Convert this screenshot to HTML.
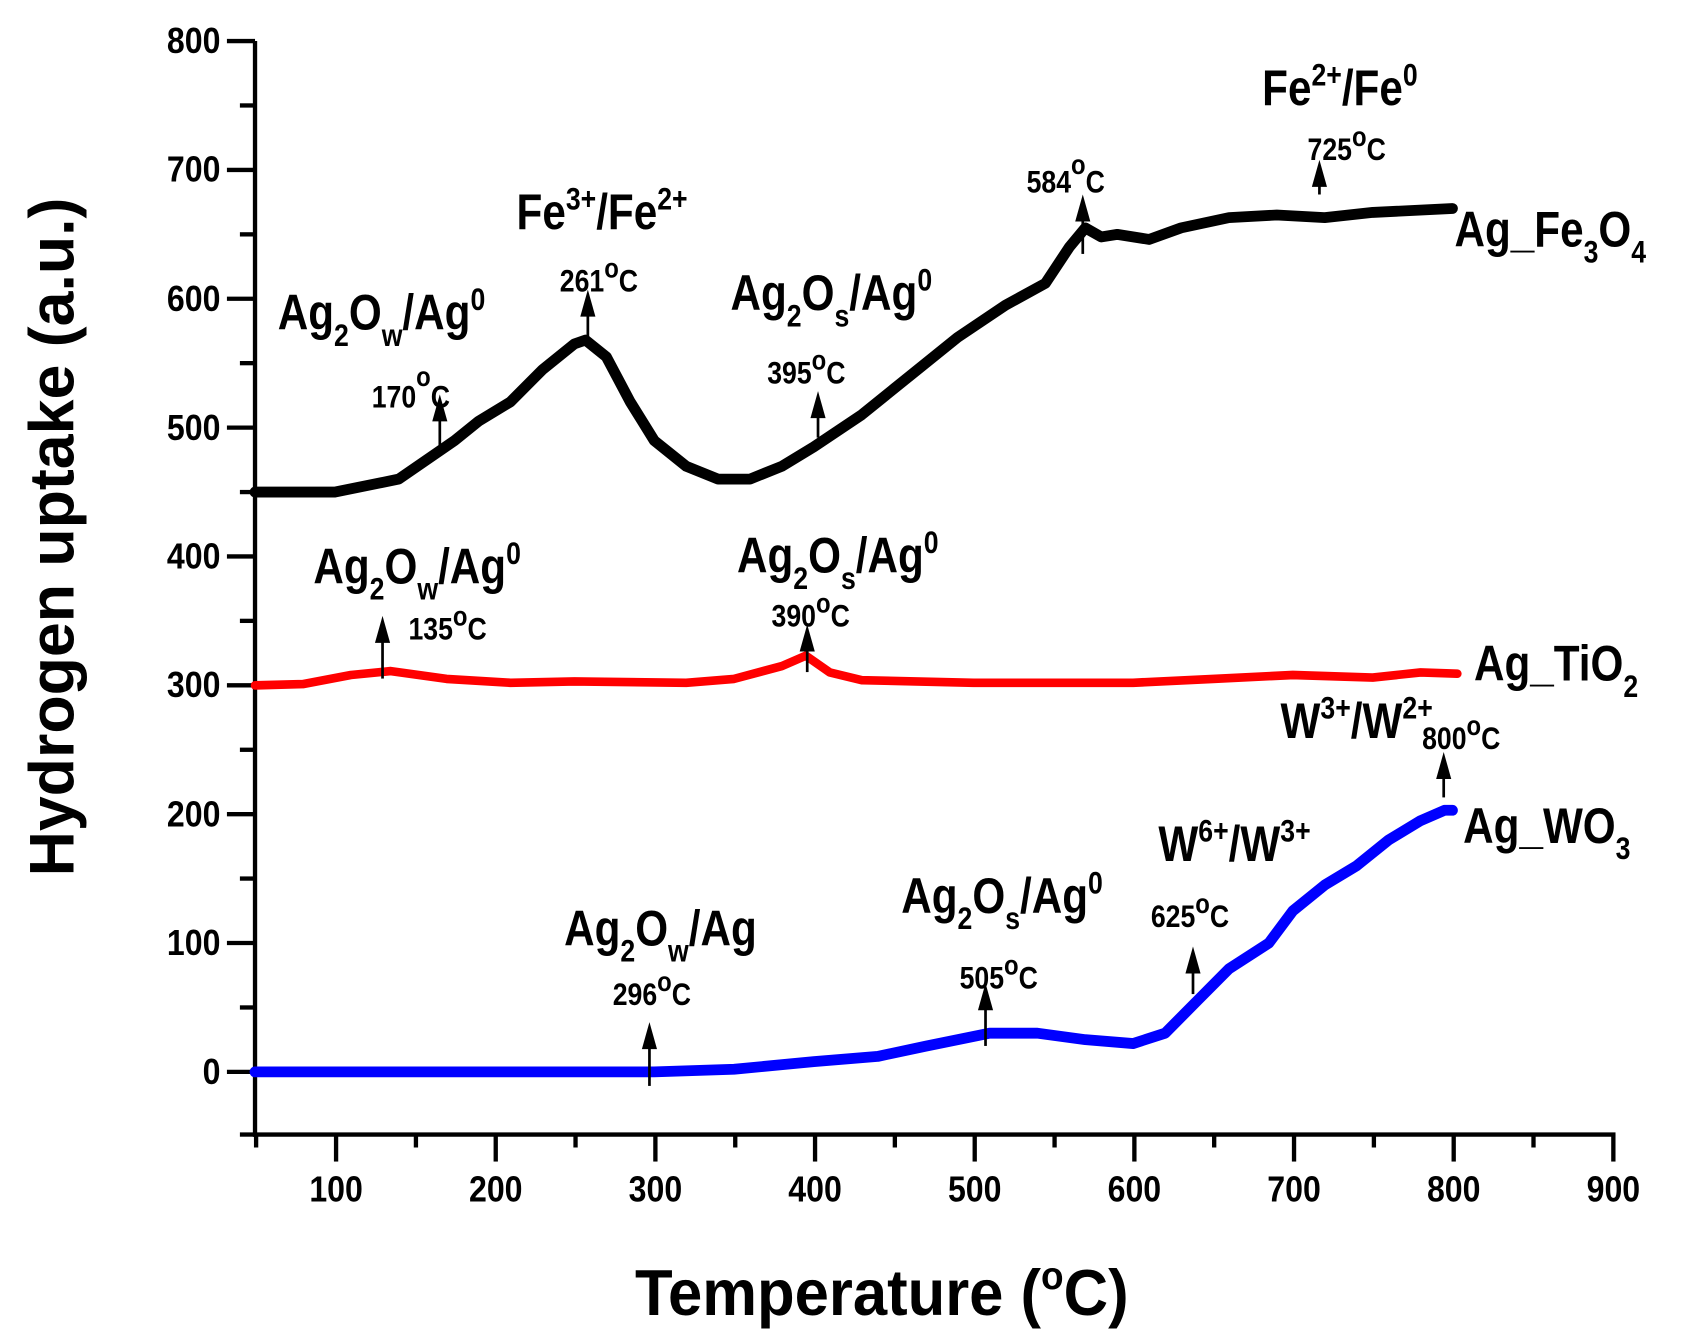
<!DOCTYPE html>
<html><head><meta charset="utf-8"><style>
html,body{margin:0;padding:0;background:#fff;}
svg{display:block;}
text{font-family:"Liberation Sans",Arial,sans-serif;font-weight:bold;fill:#000;}
</style></head><body>
<svg width="1689" height="1342" viewBox="0 0 1563 1242" preserveAspectRatio="none" xmlns="http://www.w3.org/2000/svg">
<rect width="1563" height="1242" fill="#fff"/>
<g stroke="#000" stroke-width="4" fill="none">
<line x1="236" y1="38" x2="236" y2="1052"/>
<line x1="234" y1="1050" x2="1495" y2="1050"/>
<line x1="210" y1="992" x2="236" y2="992"/><line x1="210" y1="872.75" x2="236" y2="872.75"/>
<line x1="210" y1="753.5" x2="236" y2="753.5"/><line x1="210" y1="634.25" x2="236" y2="634.25"/>
<line x1="210" y1="515" x2="236" y2="515"/><line x1="210" y1="395.75" x2="236" y2="395.75"/>
<line x1="210" y1="276.5" x2="236" y2="276.5"/><line x1="210" y1="157.25" x2="236" y2="157.25"/>
<line x1="210" y1="38" x2="236" y2="38"/>
<line x1="222" y1="1050" x2="236" y2="1050"/><line x1="222" y1="932.4" x2="236" y2="932.4"/>
<line x1="222" y1="813.1" x2="236" y2="813.1"/><line x1="222" y1="693.9" x2="236" y2="693.9"/>
<line x1="222" y1="574.6" x2="236" y2="574.6"/><line x1="222" y1="455.4" x2="236" y2="455.4"/>
<line x1="222" y1="336.1" x2="236" y2="336.1"/><line x1="222" y1="216.9" x2="236" y2="216.9"/>
<line x1="222" y1="97.6" x2="236" y2="97.6"/>
<line x1="311" y1="1050" x2="311" y2="1075"/><line x1="458.75" y1="1050" x2="458.75" y2="1075"/>
<line x1="606.5" y1="1050" x2="606.5" y2="1075"/><line x1="754.25" y1="1050" x2="754.25" y2="1075"/>
<line x1="902" y1="1050" x2="902" y2="1075"/><line x1="1049.75" y1="1050" x2="1049.75" y2="1075"/>
<line x1="1197.5" y1="1050" x2="1197.5" y2="1075"/><line x1="1345.25" y1="1050" x2="1345.25" y2="1075"/>
<line x1="1493" y1="1050" x2="1493" y2="1075"/>
<line x1="237" y1="1050" x2="237" y2="1062"/><line x1="384.9" y1="1050" x2="384.9" y2="1062"/>
<line x1="532.6" y1="1050" x2="532.6" y2="1062"/><line x1="680.4" y1="1050" x2="680.4" y2="1062"/>
<line x1="828.1" y1="1050" x2="828.1" y2="1062"/><line x1="975.9" y1="1050" x2="975.9" y2="1062"/>
<line x1="1123.6" y1="1050" x2="1123.6" y2="1062"/><line x1="1271.4" y1="1050" x2="1271.4" y2="1062"/>
<line x1="1419.1" y1="1050" x2="1419.1" y2="1062"/>
</g>
<g font-size="33" text-anchor="end">
<text transform="translate(204,1003) scale(0.9,1)">0</text><text transform="translate(204,884) scale(0.9,1)">100</text><text transform="translate(204,765) scale(0.9,1)">200</text>
<text transform="translate(204,645) scale(0.9,1)">300</text><text transform="translate(204,526) scale(0.9,1)">400</text><text transform="translate(204,407) scale(0.9,1)">500</text>
<text transform="translate(204,288) scale(0.9,1)">600</text><text transform="translate(204,168) scale(0.9,1)">700</text><text transform="translate(204,49) scale(0.9,1)">800</text>
</g>
<g font-size="33" text-anchor="middle">
<text transform="translate(311,1112) scale(0.9,1)">100</text><text transform="translate(458.75,1112) scale(0.9,1)">200</text><text transform="translate(606.5,1112) scale(0.9,1)">300</text>
<text transform="translate(754.25,1112) scale(0.9,1)">400</text><text transform="translate(902,1112) scale(0.9,1)">500</text><text transform="translate(1049.75,1112) scale(0.9,1)">600</text>
<text transform="translate(1197.5,1112) scale(0.9,1)">700</text><text transform="translate(1345.25,1112) scale(0.9,1)">800</text><text transform="translate(1493,1112) scale(0.9,1)">900</text>
</g>
<text transform="translate(68,497) rotate(-90)" font-size="58" text-anchor="middle">Hydrogen uptake (a.u.)</text>
<text transform="translate(816,1217) scale(0.95,1)" font-size="60" text-anchor="middle">Temperature (<tspan font-size="36" dy="-24">o</tspan><tspan dy="24">C)</tspan></text>
<g fill="none" stroke-linejoin="round" stroke-linecap="round">
<polyline stroke="#000" stroke-width="10" points="236,455.4 309.9,455.4 369,443.4 420.7,407.7 442.9,389.8 472.4,371.9 502,342.1 531.5,318.3 541.8,314.7 561.1,330.2 583.2,371.9 605.4,407.7 635,431.5 664.5,443.4 694,443.4 723.6,431.5 753.1,413.6 797.5,383.8 841.8,348 886.1,312.3 930.4,282.5 967.4,262.2 989.5,228.8 1004.3,210.9 1019.1,219.3 1033.9,216.9 1063.4,221.6 1093,210.9 1137.3,201.4 1181.6,199 1225.9,201.4 1270.3,196.6 1344.1,193"/>
<polyline stroke="#f00" stroke-width="8" points="236,634.3 280.3,633.1 324.7,624.7 361.6,621.1 413.3,628.3 472.4,631.9 531.5,630.7 635,631.9 679.3,628.3 723.6,616.4 745.7,606.8 767.9,622.3 797.5,629.5 900.9,631.9 1048.6,631.9 1122.5,628.3 1196.4,624.7 1270.3,627.1 1314.6,622.3 1348.6,623.5"/>
<polyline stroke="#00f" stroke-width="10" points="236,992 605.4,992 679.3,989.6 753.1,982.5 812.2,977.7 856.6,968.2 915.7,956.2 960,956.2 1004.3,962.2 1048.6,965.8 1078.2,956.2 1107.7,926.4 1137.3,896.6 1174.2,872.8 1196.4,843 1225.9,819.1 1255.5,801.2 1285,777.4 1314.6,759.5 1336.7,749.9 1344.1,749.9"/>
</g>
<g stroke="#000" stroke-width="2.5">
<line x1="407" y1="422" x2="407" y2="385"/><line x1="544" y1="315" x2="544" y2="288"/>
<line x1="757" y1="405" x2="757" y2="382"/><line x1="1002" y1="235" x2="1002" y2="200"/>
<line x1="1221" y1="180" x2="1221" y2="168"/><line x1="354" y1="628" x2="354" y2="590"/>
<line x1="747" y1="622" x2="747" y2="598"/><line x1="601" y1="1005" x2="601" y2="966"/>
<line x1="912" y1="968" x2="912" y2="930"/><line x1="1104" y1="920" x2="1104" y2="896"/>
<line x1="1336" y1="738" x2="1336" y2="716"/>
</g>
<g fill="#000">
<polygon points="400,390 414,390 407,365"/><polygon points="537,293 551,293 544,268"/>
<polygon points="750,387 764,387 757,362"/><polygon points="995,205 1009,205 1002,180"/>
<polygon points="1214,173 1228,173 1221,148"/><polygon points="347,595 361,595 354,570"/>
<polygon points="740,603 754,603 747,578"/><polygon points="594,971 608,971 601,946"/>
<polygon points="905,935 919,935 912,910"/><polygon points="1097,901 1111,901 1104,876"/>
<polygon points="1329,721 1343,721 1336,696"/>
</g>
<g font-size="46">
<text transform="translate(257,305) scale(0.85,1)">Ag<tspan font-size="29" dy="15">2</tspan><tspan dy="-15">O</tspan><tspan font-size="29" dy="15">w</tspan><tspan dy="-15">/Ag</tspan><tspan font-size="29" dy="-18">0</tspan></text>
<text transform="translate(478,212) scale(0.85,1)">Fe<tspan font-size="29" dy="-18">3+</tspan><tspan dy="18">/Fe</tspan><tspan font-size="29" dy="-18">2+</tspan></text>
<text transform="translate(676,287) scale(0.85,1)">Ag<tspan font-size="29" dy="15">2</tspan><tspan dy="-15">O</tspan><tspan font-size="29" dy="15">s</tspan><tspan dy="-15">/Ag</tspan><tspan font-size="29" dy="-18">0</tspan></text>
<text transform="translate(1168,97) scale(0.85,1)">Fe<tspan font-size="29" dy="-18">2+</tspan><tspan dy="18">/Fe</tspan><tspan font-size="29" dy="-18">0</tspan></text>
<text transform="translate(1346,228) scale(0.85,1)">Ag_Fe<tspan font-size="29" dy="15">3</tspan><tspan dy="-15">O</tspan><tspan font-size="29" dy="15">4</tspan></text>
<text transform="translate(290,540) scale(0.85,1)">Ag<tspan font-size="29" dy="15">2</tspan><tspan dy="-15">O</tspan><tspan font-size="29" dy="15">w</tspan><tspan dy="-15">/Ag</tspan><tspan font-size="29" dy="-18">0</tspan></text>
<text transform="translate(682,530) scale(0.85,1)">Ag<tspan font-size="29" dy="15">2</tspan><tspan dy="-15">O</tspan><tspan font-size="29" dy="15">s</tspan><tspan dy="-15">/Ag</tspan><tspan font-size="29" dy="-18">0</tspan></text>
<text transform="translate(1364,630) scale(0.85,1)">Ag_TiO<tspan font-size="29" dy="15">2</tspan></text>
<text transform="translate(1185,683) scale(0.85,1)">W<tspan font-size="29" dy="-18">3+</tspan><tspan dy="18">/W</tspan><tspan font-size="29" dy="-18">2+</tspan></text>
<text transform="translate(1354,780) scale(0.85,1)">Ag_WO<tspan font-size="29" dy="15">3</tspan></text>
<text transform="translate(1072,797) scale(0.85,1)">W<tspan font-size="29" dy="-18">6+</tspan><tspan dy="18">/W</tspan><tspan font-size="29" dy="-18">3+</tspan></text>
<text transform="translate(834,845) scale(0.85,1)">Ag<tspan font-size="29" dy="15">2</tspan><tspan dy="-15">O</tspan><tspan font-size="29" dy="15">s</tspan><tspan dy="-15">/Ag</tspan><tspan font-size="29" dy="-18">0</tspan></text>
<text transform="translate(522,875) scale(0.85,1)">Ag<tspan font-size="29" dy="15">2</tspan><tspan dy="-15">O</tspan><tspan font-size="29" dy="15">w</tspan><tspan dy="-15">/Ag</tspan></text>
</g>
<g font-size="29">
<text transform="translate(344,377) scale(0.85,1)">170<tspan font-size="26" dy="-20">o</tspan><tspan dy="20">C</tspan></text>
<text transform="translate(518,270) scale(0.85,1)">261<tspan font-size="26" dy="-13">o</tspan><tspan dy="13">C</tspan></text>
<text transform="translate(710,355) scale(0.85,1)">395<tspan font-size="26" dy="-13">o</tspan><tspan dy="13">C</tspan></text>
<text transform="translate(950,178) scale(0.85,1)">584<tspan font-size="26" dy="-17">o</tspan><tspan dy="17">C</tspan></text>
<text transform="translate(1210,148) scale(0.85,1)">725<tspan font-size="26" dy="-13">o</tspan><tspan dy="13">C</tspan></text>
<text transform="translate(378,592) scale(0.85,1)">135<tspan font-size="26" dy="-13">o</tspan><tspan dy="13">C</tspan></text>
<text transform="translate(714,580) scale(0.85,1)">390<tspan font-size="26" dy="-13">o</tspan><tspan dy="13">C</tspan></text>
<text transform="translate(1316,693) scale(0.85,1)">800<tspan font-size="26" dy="-13">o</tspan><tspan dy="13">C</tspan></text>
<text transform="translate(1065,858) scale(0.85,1)">625<tspan font-size="26" dy="-13">o</tspan><tspan dy="13">C</tspan></text>
<text transform="translate(888,915) scale(0.85,1)">505<tspan font-size="26" dy="-13">o</tspan><tspan dy="13">C</tspan></text>
<text transform="translate(567,930) scale(0.85,1)">296<tspan font-size="26" dy="-13">o</tspan><tspan dy="13">C</tspan></text>
</g>
</svg>
</body></html>
